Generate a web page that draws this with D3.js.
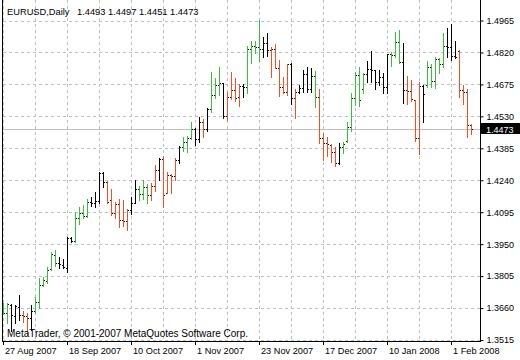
<!DOCTYPE html>
<html><head><meta charset="utf-8">
<script src="https://cdn.jsdelivr.net/npm/d3@7"></script>
<style>
html,body{margin:0;padding:0;background:#fff;}
svg{display:block;}
text{font-family:"Liberation Sans",Arial,sans-serif;}
</style>
</head><body>
<svg id="chart" width="520" height="360"></svg>
<script>
const symbolName = "EURUSD,Daily";
const lastQuote = [1.4493, 1.4497, 1.4451, 1.4473];
const watermark = "MetaTrader, © 2001-2007 MetaQuotes Software Corp.";

const opens = [1.3660,1.3638,1.3674,1.3624,1.3665,1.3628,1.3624,1.3615,1.3647,1.3687,
1.3765,1.3783,1.3837,1.3901,1.3864,1.3855,1.3842,1.3978,1.3964,1.4069,
1.4091,1.4078,1.4141,1.4137,1.4146,1.4273,1.4232,1.4150,1.4091,1.4132,
1.4060,1.4055,1.4105,1.4137,1.4200,1.4178,1.4209,1.4173,1.4214,1.4287,
1.4336,1.4182,1.4264,1.4259,1.4332,1.4391,1.4414,1.4432,1.4473,1.4427,
1.4504,1.4473,1.4563,1.4627,1.4672,1.4681,1.4532,1.4618,1.4650,1.4618,
1.4668,1.4663,1.4836,1.4849,1.4845,1.4836,1.4863,1.4831,1.4836,1.4749,
1.4663,1.4641,1.4768,1.4613,1.4641,1.4659,1.4722,1.4654,1.4713,1.4618,
1.4432,1.4409,1.4400,1.4368,1.4318,1.4391,1.4418,1.4482,1.4613,1.4718,
1.4654,1.4722,1.4745,1.4740,1.4686,1.4709,1.4663,1.4813,1.4808,1.4867,
1.4777,1.4650,1.4645,1.4604,1.4432,1.4668,1.4672,1.4754,1.4690,1.4790,
1.4768,1.4849,1.4845,1.4804,1.4827,1.4650,1.4641,1.4493];

const highs = [1.3683,1.3683,1.3678,1.3674,1.3719,1.3647,1.3638,1.3674,1.3710,1.3796,
1.3801,1.3846,1.3914,1.3923,1.3892,1.3883,1.3982,1.3982,1.4096,1.4119,
1.4128,1.4155,1.4164,1.4187,1.4277,1.4277,1.4237,1.4200,1.4141,1.4155,
1.4150,1.4110,1.4164,1.4241,1.4214,1.4241,1.4223,1.4228,1.4309,1.4341,
1.4350,1.4277,1.4268,1.4341,1.4395,1.4436,1.4441,1.4504,1.4477,1.4527,
1.4518,1.4568,1.4731,1.4704,1.4754,1.4681,1.4641,1.4731,1.4704,1.4677,
1.4677,1.4849,1.4872,1.4872,1.4967,1.4890,1.4908,1.4845,1.4858,1.4786,
1.4709,1.4768,1.4772,1.4654,1.4672,1.4740,1.4754,1.4749,1.4736,1.4654,
1.4454,1.4436,1.4405,1.4391,1.4409,1.4414,1.4504,1.4636,1.4731,1.4754,
1.4727,1.4781,1.4827,1.4740,1.4740,1.4727,1.4813,1.4822,1.4913,1.4922,
1.4863,1.4713,1.4695,1.4604,1.4686,1.4672,1.4781,1.4768,1.4799,1.4795,
1.4908,1.4931,1.4949,1.4872,1.4831,1.4672,1.4654,1.4497];

const lows = [1.3633,1.3592,1.3556,1.3592,1.3606,1.3597,1.3538,1.3560,1.3638,1.3660,
1.3760,1.3774,1.3833,1.3851,1.3842,1.3842,1.3824,1.3960,1.3960,1.4041,
1.4069,1.4073,1.4123,1.4119,1.4137,1.4209,1.4137,1.4082,1.4069,1.4028,
1.4032,1.4014,1.4087,1.4137,1.4150,1.4155,1.4137,1.4150,1.4191,1.4241,
1.4119,1.4182,1.4182,1.4241,1.4318,1.4373,1.4368,1.4427,1.4400,1.4414,
1.4436,1.4464,1.4550,1.4613,1.4627,1.4523,1.4513,1.4609,1.4600,1.4577,
1.4618,1.4636,1.4772,1.4818,1.4781,1.4799,1.4804,1.4709,1.4749,1.4622,
1.4636,1.4627,1.4586,1.4523,1.4636,1.4641,1.4641,1.4641,1.4572,1.4409,
1.4332,1.4350,1.4323,1.4305,1.4314,1.4364,1.4414,1.4464,1.4582,1.4577,
1.4636,1.4686,1.4686,1.4654,1.4672,1.4636,1.4636,1.4759,1.4799,1.4772,
1.4591,1.4586,1.4600,1.4418,1.4359,1.4504,1.4663,1.4663,1.4659,1.4727,
1.4754,1.4799,1.4786,1.4795,1.4618,1.4586,1.4436,1.4451];

const closes = [1.3638,1.3678,1.3628,1.3669,1.3628,1.3624,1.3615,1.3647,1.3687,1.3765,
1.3787,1.3833,1.3905,1.3864,1.3860,1.3846,1.3978,1.3964,1.4069,1.4091,
1.4078,1.4141,1.4137,1.4146,1.4273,1.4232,1.4141,1.4091,1.4132,1.4060,
1.4055,1.4105,1.4137,1.4200,1.4178,1.4209,1.4173,1.4214,1.4287,1.4336,
1.4173,1.4264,1.4259,1.4332,1.4391,1.4414,1.4432,1.4473,1.4427,1.4504,
1.4473,1.4563,1.4627,1.4672,1.4681,1.4532,1.4618,1.4650,1.4613,1.4668,
1.4663,1.4836,1.4849,1.4845,1.4836,1.4863,1.4831,1.4836,1.4749,1.4663,
1.4641,1.4768,1.4613,1.4641,1.4659,1.4722,1.4654,1.4713,1.4618,1.4432,
1.4409,1.4405,1.4368,1.4318,1.4391,1.4405,1.4482,1.4613,1.4718,1.4604,
1.4722,1.4745,1.4740,1.4686,1.4709,1.4663,1.4813,1.4808,1.4867,1.4777,
1.4650,1.4645,1.4609,1.4432,1.4668,1.4631,1.4754,1.4690,1.4790,1.4768,
1.4849,1.4845,1.4804,1.4799,1.4650,1.4641,1.4491,1.4473];

// signal per bar: g = up signal, r = down signal, k = neutral
const signals = ("ggkkkrrkgg"+"ggggkkkkgg"+"ggkkkkrrrr"+"rrkkgggrrk"+"rrrrkgggkk"+
  "rkgggkrrrr"+"kggggkkrrr"+"rrkrkkkkgr"+"rrrrkggggg"+"gkkkkkkggg"+"krrrrkgggg"+"gkkkrrrr").split("");

const priceTicks = [1.3515,1.3660,1.3805,1.3950,1.4095,1.4240,1.4385,1.4530,1.4675,1.4820,1.4965];
const dateLabels = ["27 Aug 2007","18 Sep 2007","10 Oct 2007","1 Nov 2007","23 Nov 2007","17 Dec 2007","10 Jan 2008","1 Feb 2008"];
const dateLabelBars = [0,16,32,48,64,80,96,112];

const colorOf = {g:"#3cbc3c", r:"#ee5020", k:"#000000"};
const n = closes.length;
const data = d3.range(n).map(i => ({i, o:opens[i], h:highs[i], l:lows[i], c:closes[i], s:signals[i]}));

const svg = d3.select("#chart");
const left = 2, right = 480, bottom = 341;
const x = d3.scaleLinear().domain([0, n-1]).range([3.5, 3.5 + 4*(n-1)]);
const y = d3.scaleLinear().domain([priceTicks[0], priceTicks[priceTicks.length-1]]).range([340, 20.5]);

svg.append("rect").attr("width",520).attr("height",360).attr("fill","#fff");

// grid
const gridG = svg.append("g").attr("stroke","#c0c0c0").attr("stroke-dasharray","3,3").attr("shape-rendering","crispEdges");
gridG.selectAll("line.h").data(priceTicks).enter().append("line")
  .attr("x1", left+1).attr("x2", right)
  .attr("y1", d => Math.round(y(d))+0.5).attr("y2", d => Math.round(y(d))+0.5);
gridG.selectAll("line.v").data(d3.range(0, n, 8)).enter().append("line")
  .attr("x1", d => x(d)).attr("x2", d => x(d))
  .attr("y1", 0).attr("y2", bottom);

// current price line
svg.append("line").attr("x1", left+1).attr("x2", right)
  .attr("y1", Math.round(y(lastQuote[3]))+0.5).attr("y2", Math.round(y(lastQuote[3]))+0.5)
  .attr("stroke","#c0c0c0").attr("shape-rendering","crispEdges");

// bars
const barsG = svg.append("g").attr("shape-rendering","crispEdges");
barsG.selectAll("rect.hl").data(data).enter().append("rect")
  .attr("x", d => x(d.i)-0.5).attr("width", 1)
  .attr("y", d => Math.round(y(d.h)))
  .attr("height", d => Math.max(1, Math.round(y(d.l)) - Math.round(y(d.h)) + 1))
  .attr("fill", d => colorOf[d.s]);
barsG.selectAll("rect.o").data(data).enter().append("rect")
  .attr("x", d => x(d.i)-1.5).attr("width", 1)
  .attr("y", d => Math.round(y(d.o))).attr("height", 1).attr("fill","#000");
barsG.selectAll("rect.c").data(data).enter().append("rect")
  .attr("x", d => x(d.i)+0.5).attr("width", 1)
  .attr("y", d => Math.round(y(d.c))).attr("height", 1).attr("fill","#000");

// frame and axes
const frame = svg.append("g").attr("stroke","#000").attr("shape-rendering","crispEdges");
frame.append("line").attr("x1", left+0.5).attr("x2", left+0.5).attr("y1", 0).attr("y2", bottom+1);
frame.append("line").attr("x1", right+0.5).attr("x2", right+0.5).attr("y1", 0).attr("y2", bottom+1);
frame.append("line").attr("x1", left).attr("x2", right+1).attr("y1", bottom+0.5).attr("y2", bottom+0.5);

// right price axis
const yAxis = d3.axisRight(y).tickValues(priceTicks).tickSize(3).tickPadding(3).tickFormat(d3.format(".4f"));
const ya = svg.append("g").attr("transform", `translate(${right+0.5},0)`).call(yAxis);
ya.select(".domain").remove();
ya.selectAll(".tick line").attr("stroke","#000");
ya.selectAll(".tick text").attr("font-size","9px").attr("fill","#000")
  .attr("font-family",'"Liberation Sans",Arial,sans-serif').attr("x", 6);

// current price label
const cy = Math.round(y(lastQuote[3]));
svg.append("rect").attr("x", right+1).attr("y", cy-6).attr("width", 520-right-1).attr("height", 11).attr("fill","#000");
svg.append("text").attr("x", right+6).attr("y", cy+3.5).attr("fill","#fff").attr("font-size","9px")
  .text(d3.format(".4f")(lastQuote[3]));

// bottom date axis
const xa = svg.append("g");
xa.selectAll("line").data(dateLabelBars).enter().append("line")
  .attr("x1", d => x(d)).attr("x2", d => x(d)).attr("y1", bottom).attr("y2", bottom+4)
  .attr("stroke","#000").attr("shape-rendering","crispEdges");
xa.selectAll("text").data(dateLabelBars).enter().append("text")
  .attr("x", d => x(d)+1.5).attr("y", 354).attr("font-size","9.2px").attr("fill","#000")
  .text((d,k) => dateLabels[k]);

// title
svg.append("text").attr("x", 7).attr("y", 14.5).attr("font-size","9.3px").attr("fill","#000").text(symbolName);
svg.append("text").attr("x", 77).attr("y", 14.5).attr("font-size","9.3px").attr("fill","#000")
  .text(lastQuote.map(d3.format(".4f")).join(" "));

// watermark
svg.append("text").attr("x", 7).attr("y", 337).attr("font-size","10px").attr("fill","#000").text(watermark);
</script>
</body></html>
